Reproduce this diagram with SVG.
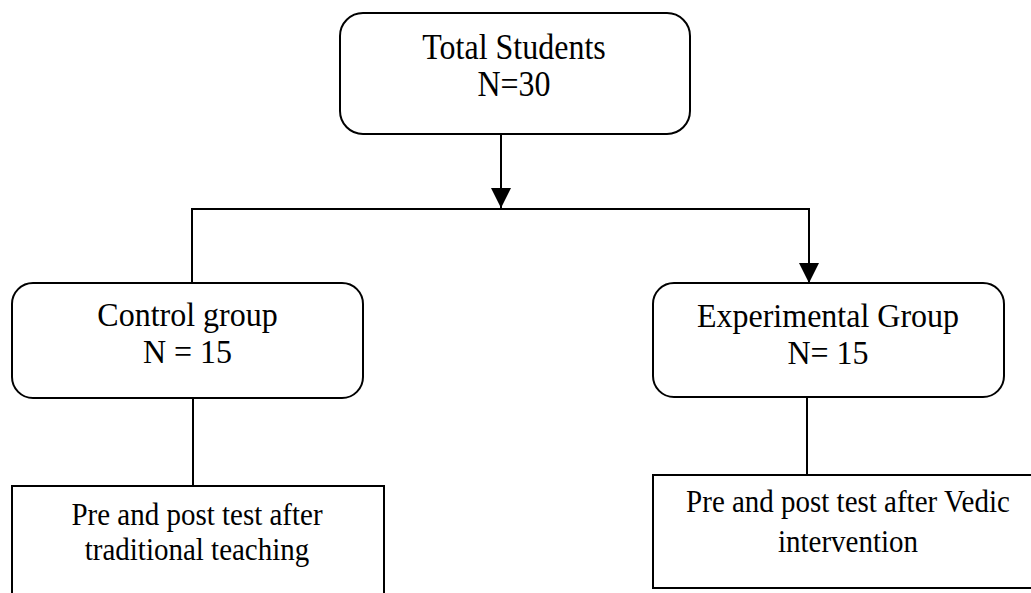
<svg xmlns="http://www.w3.org/2000/svg" width="1031" height="593" viewBox="0 0 1031 593">
<style>
.box{fill:#fff;stroke:#000;stroke-width:2}
.t{font-family:"Liberation Serif","Times New Roman",serif;fill:#000;text-anchor:middle}
.big{font-size:32px}
.small{font-size:29px}
.conn{fill:none;stroke:#000;stroke-width:2}
</style>
<defs>
<marker id="arr" viewBox="0 0 20 20" refX="20" refY="10" markerWidth="20" markerHeight="20" markerUnits="userSpaceOnUse" orient="auto">
<path d="M0,0 L20,10 L0,20 Z" fill="#000"/>
</marker>
</defs>
<rect width="1031" height="593" fill="#fff"/>
<g id="connectors">
<line class="conn" x1="501" y1="134" x2="501" y2="208" marker-end="url(#arr)"/>
<polyline class="conn" points="192,283 192,209 809,209 809,283" marker-end="url(#arr)"/>
<line class="conn" x1="193" y1="398" x2="193" y2="486"/>
<line class="conn" x1="807" y1="397" x2="807" y2="475"/>
</g>
<g id="total">
<rect class="box" x="340" y="13" width="350" height="121" rx="23" ry="23"/>
<text class="t big" transform="translate(514,59) scale(1,1.12)">Total Students</text>
<text class="t big" transform="translate(514,96) scale(1,1.12)">N=30</text>
</g>
<g id="control">
<rect class="box" x="12" y="283" width="351" height="115" rx="21" ry="21"/>
<text class="t big" transform="translate(187.5,326) scale(1,1.08)">Control group</text>
<text class="t big" transform="translate(187.5,363) scale(1,1.08)">N = 15</text>
</g>
<g id="experimental">
<rect class="box" x="653" y="283" width="351" height="114" rx="21" ry="21"/>
<text class="t big" transform="translate(828,327) scale(1,1.08)">Experimental Group</text>
<text class="t big" transform="translate(828,364) scale(1,1.08)">N= 15</text>
</g>
<g id="control-test">
<rect class="box" x="12" y="486" width="372" height="120"/>
<text class="t small" transform="translate(197,525) scale(1,1.12)">Pre and post test after</text>
<text class="t small" transform="translate(197,560) scale(1,1.12)">traditional teaching</text>
</g>
<g id="experimental-test">
<rect class="box" x="653" y="475" width="390" height="113"/>
<text class="t small" transform="translate(848,512) scale(1,1.12)">Pre and post test after Vedic</text>
<text class="t small" transform="translate(848,552) scale(1,1.12)">intervention</text>
</g>
</svg>
